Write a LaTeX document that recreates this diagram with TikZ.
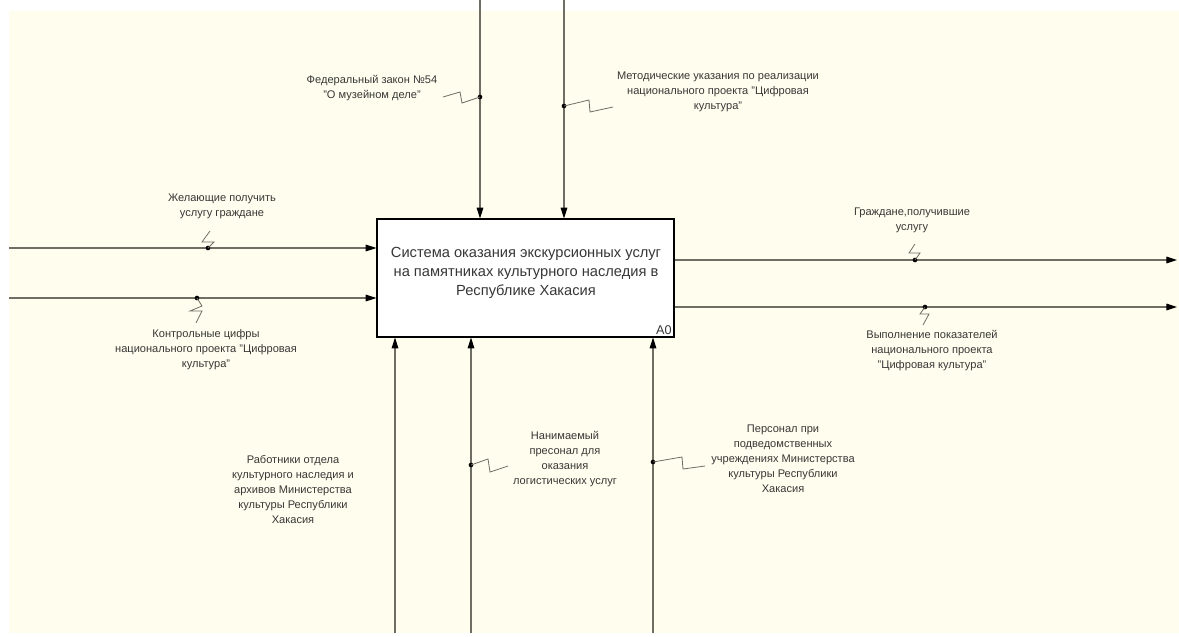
\documentclass[tikz,border=0pt]{standalone}
\usepackage{fontspec}
\setmainfont{Liberation Sans}
\usetikzlibrary{arrows.meta}
\definecolor{cream}{RGB}{255,254,238}
\definecolor{wirec}{RGB}{110,110,100}
\definecolor{txt}{RGB}{55,55,55}
\begin{document}
\begin{tikzpicture}[x=0.75pt,y=-0.75pt,
  wire/.style={draw=wirec, line width=0.8pt},
  arr/.style={wire, -{Triangle[length=8pt,width=5pt,black]}},
  lbl/.style={align=center, text=txt, inner sep=0pt, font=\fontsize{8.3}{11.25}\selectfont},
  dotn/.style={circle, fill=black, inner sep=0pt, minimum size=3.5pt},
  squig/.style={draw=wirec, line width=0.6pt},
  actbox/.style={draw=black, fill=white, line width=0.9pt, minimum width=222.75pt, minimum height=88.5pt, inner sep=0pt}]
\useasboundingbox (0,0) rectangle (1179,636);
\fill[white] (0,0) rectangle (1179,636);
\fill[cream] (9,11) rectangle (1179,633);

% activity box
\node[actbox] (A0) at (525.5,278) {};
\node[align=center, text=txt, inner sep=0pt, font=\fontsize{11}{14.25}\selectfont] (A0t) at (526,273)
  {Система оказания экскурсионных услуг\\на памятниках культурного наследия в\\Республике Хакасия};
\node[text=txt, font=\fontsize{9.5}{12}\selectfont, anchor=south east, inner sep=2pt] (A0n) at (A0.south east) {A0};

% controls (top)
\coordinate (c1) at (480,0);
\coordinate (c2) at (564,0);
\draw[arr] (c1) -- (c1 |- A0.north);
\draw[arr] (c2) -- (c2 |- A0.north);
\node[dotn] (d1) at (480,97) {};
\node[dotn] (d2) at (564,106) {};
\node[lbl] (l1) at (372,88) {Федеральный закон №54\\"О музейном деле"};
\node[lbl] (l2) at (718,92) {Методические указания по реализации\\национального проекта "Цифровая\\культура"};
\draw[squig] (d1.center) -- ++(-18,6) -- ++(-2,-11) -- ++(-17,5);
\draw[squig] (d2.center) -- ++(25,-6) -- ++(1,12) -- ++(23,-5);

% inputs (left)
\coordinate (i1) at (9,248);
\coordinate (i2) at (9,298);
\draw[arr] (i1) -- (A0.west |- i1);
\draw[arr] (i2) -- (A0.west |- i2);
\node[dotn] (d3) at (208,248) {};
\node[dotn] (d4) at (197,298) {};
\node[lbl] (l3) at (222,206) {Желающие получить\\услугу граждане};
\node[lbl] (l4) at (206,350) {Контрольные цифры\\национального проекта "Цифровая\\культура"};
\draw[squig] (d3.center) -- ++(6,-6) -- ++(-12,0) -- ++(8,-11);
\draw[squig] (d4.center) -- ++(5,8) -- ++(-12,5) -- ++(12,0) -- ++(-6,12);

% outputs (right)
\coordinate (o1) at (1177,260);
\coordinate (o2) at (1177,307);
\draw[arr] (A0.east |- o1) -- (o1);
\draw[arr] (A0.east |- o2) -- (o2);
\node[dotn] (d5) at (915,260) {};
\node[dotn] (d6) at (925,307) {};
\node[lbl] (l5) at (912,220) {Граждане,получившие\\услугу};
\node[lbl] (l6) at (932,351) {Выполнение показателей\\национального проекта\\"Цифровая культура"};
\draw[squig] (d5.center) -- ++(5,-7) -- ++(-11,0) -- ++(6,-9);
\draw[squig] (d6.center) -- ++(-5,7) -- ++(9,0) -- ++(-6,11);

% mechanisms (bottom)
\coordinate (m1) at (395,633);
\coordinate (m2) at (471,633);
\coordinate (m3) at (653,633);
\draw[arr] (m1) -- (A0.south -| m1);
\draw[arr] (m2) -- (A0.south -| m2);
\draw[arr] (m3) -- (A0.south -| m3);
\node[dotn] (d7) at (471,465) {};
\node[dotn] (d8) at (653,462) {};
\node[lbl] (l7) at (565,459) {Нанимаемый\\пресонал для\\оказания\\логистических услуг};
\node[lbl] (l8) at (783,459) {Персонал при\\подведомственных\\учреждениях Министерства\\культуры Республики\\Хакасия};
\node[lbl] (l9) at (293,489) {Работники отдела\\культурного наследия и\\архивов Министерства\\культуры Республики\\Хакасия};
\draw[squig] (d7.center) -- ++(17,-6) -- ++(2,13) -- ++(18,-6);
\draw[squig] (d8.center) -- ++(29,-5) -- ++(1,12) -- ++(22,-3);
\end{tikzpicture}
\end{document}
